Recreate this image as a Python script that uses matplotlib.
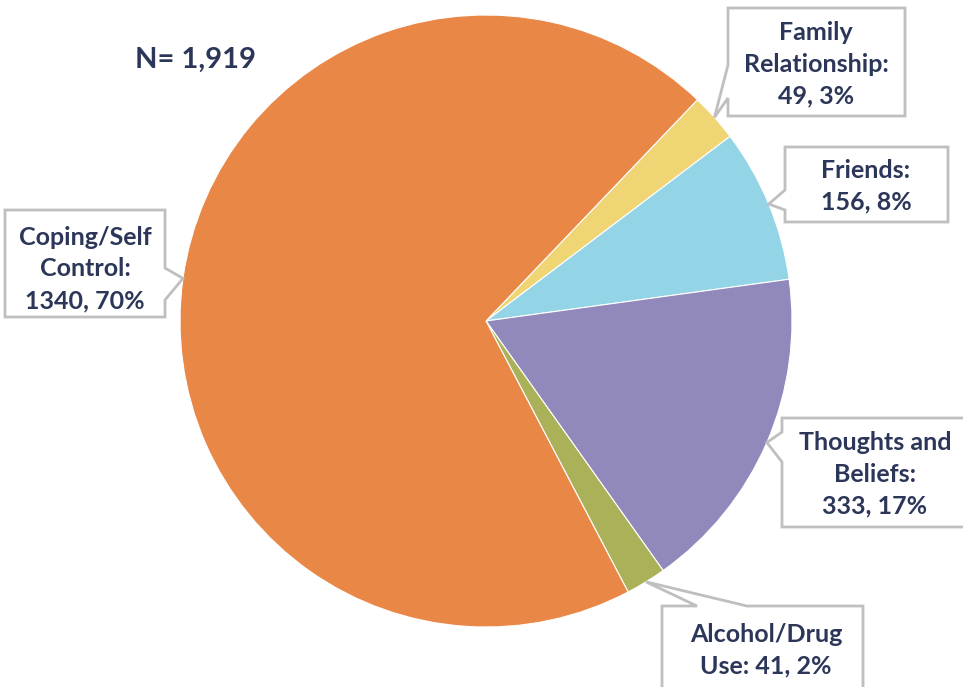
import numpy as np
import matplotlib
matplotlib.use("Agg")
import matplotlib.pyplot as plt
from matplotlib.patches import Polygon

# data (pie order, clockwise)
labels = ["Family\nRelationship:", "Friends:", "Thoughts and\nBeliefs:", "Alcohol/Drug\nUse:", "Coping/Self\nControl:"]
counts = [49, 156, 333, 41, 1340]
pcts = [3, 8, 17, 2, 70]
colors = ["#F0D574", "#93D4E6", "#9189BB", "#ABB159", "#E98846"]
total_text = "N= 1,919"

W, H = 963, 687
cx, cy, R = 486, 321, 306      # pie centre / radius in pixels

plt.rcParams['font.family'] = ['Lato', 'DejaVu Sans']
textcol = "#2C3659"
edgecol = "#BFBFBF"

fig = plt.figure(figsize=(W / 100, H / 100), dpi=100)
ax = fig.add_axes([0, 0, 1, 1])

wedges, _ = ax.pie(counts, colors=colors, startangle=46.3, counterclock=False,
                   radius=1.0, wedgeprops=dict(edgecolor='white', linewidth=0.8))

ax.set_xlim(-cx / R, (W - cx) / R)
ax.set_ylim(-(H - cy) / R, cy / R)
ax.set_aspect('equal', adjustable='box')
ax.set_position([0, 0, 1, 1])
ax.axis('off')


def px(x, y):
    # pixel (y down) -> data
    return ((x - cx) / R, (cy - y) / R)


# box: (x0, top, x1, bottom), side of pointer, pointer base range, text centre
boxes = [
    ((728, 8, 905, 116), 'left', (65, 98), (816, 64)),
    ((785, 147, 948, 222), 'left', (190, 210), (866, 186)),
    ((782, 418, 975, 527), 'left', (432, 462), (875, 474)),
    ((662, 606, 863, 700), 'top', (697, 747), (766, 650)),
    ((5, 210, 165, 317), 'right', (268, 300), (85, 269)),
]

for w, lab, n, p, (box, side, base, tc) in zip(wedges, labels, counts, pcts, boxes):
    mid = np.deg2rad((w.theta1 + w.theta2) / 2)
    tip = (np.cos(mid) * 1.0, np.sin(mid) * 1.0)
    x0, t, x1, b = box
    if side == 'left':
        pts = [px(x0, t), px(x1, t), px(x1, b), px(x0, b), px(x0, base[1]), tip, px(x0, base[0])]
    elif side == 'right':
        pts = [px(x0, t), px(x1, t), px(x1, base[0]), tip, px(x1, base[1]), px(x1, b), px(x0, b)]
    else:
        pts = [px(x0, t), px(base[0], t), tip, px(base[1], t), px(x1, t), px(x1, b), px(x0, b)]
    ax.add_patch(Polygon(pts, closed=True, facecolor='white', edgecolor=edgecol,
                         linewidth=2, zorder=3, clip_on=False))
    if lab.startswith("Alcohol"):
        txt = "Alcohol/Drug\nUse: %d, %d%%" % (n, p)
    else:
        txt = f"{lab}\n{n}, {p}%"
    ax.text(*px(*tc), txt, ha='center', va='center', fontsize=18, fontweight='bold',
            color=textcol, linespacing=1.47, zorder=4)

ax.text(*px(195, 60), total_text, ha='center', va='center', fontsize=21,
        fontweight='bold', color=textcol)

fig.savefig("out.png", dpi=100)
